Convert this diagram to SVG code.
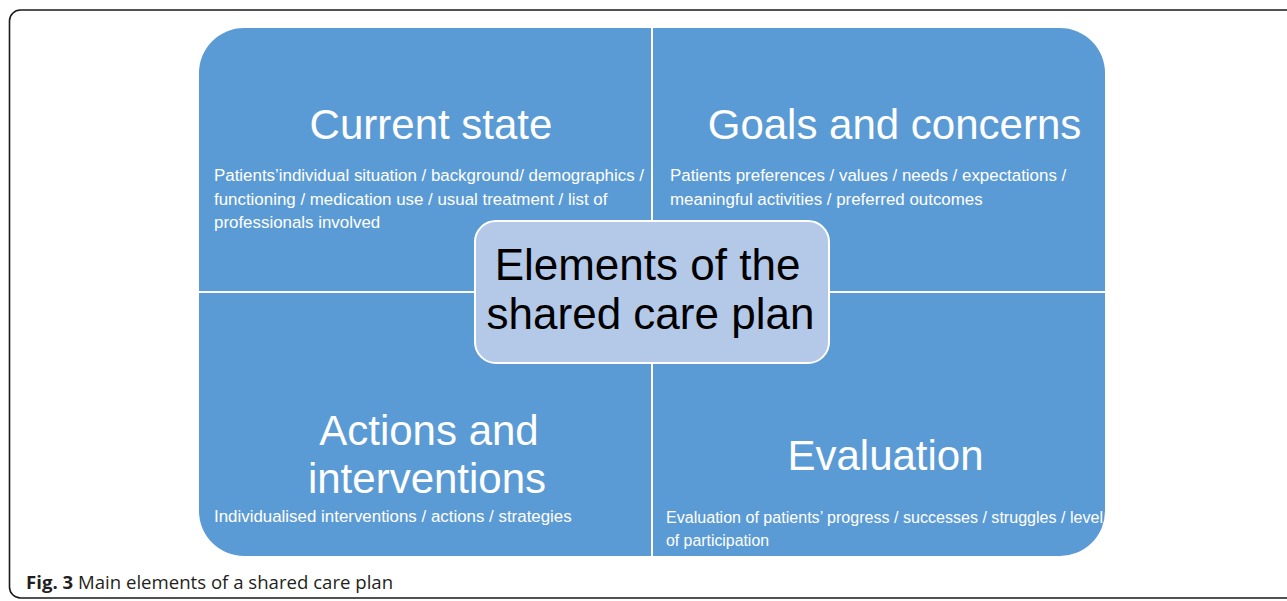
<svg xmlns="http://www.w3.org/2000/svg" width="1287" height="601" viewBox="0 0 1287 601">
<style>
.q{fill:#5b9bd5;}
.div{stroke:#ffffff;stroke-width:2;fill:none;}
.h{font-family:"Liberation Sans",Arial,sans-serif;font-size:42px;fill:#ffffff;text-anchor:middle;}
.s{font-family:"Liberation Sans",Arial,sans-serif;font-size:16.9px;fill:#ffffff;}
.c{font-family:"Liberation Sans",Arial,sans-serif;font-size:44px;fill:#000000;text-anchor:middle;}
.cap{font-family:"Open Sans","Noto Sans",sans-serif;font-size:18.6px;fill:#231f20;}
</style>
<rect x="0" y="0" width="1287" height="601" fill="#ffffff"/>
<rect x="9.5" y="10" width="1300" height="588" rx="11" fill="none" stroke="#1a1a1a" stroke-width="1.6"/>
<g id="current-state">
<path class="q" d="M199,291 L199,73 A45,45 0 0 1 244,28 L652,28 L652,291 Z"/>
<text class="h" x="431" y="139">Current state</text>
<text class="s" x="214" y="181">Patients’individual situation / background/ demographics /</text>
<text class="s" x="214" y="204.5">functioning / medication use / usual treatment / list of</text>
<text class="s" x="214" y="228">professionals involved</text>
</g>
<g id="goals-and-concerns">
<path class="q" d="M652,28 L1060,28 A45,45 0 0 1 1105,73 L1105,291 L652,291 Z"/>
<text class="h" x="894.5" y="139">Goals and concerns</text>
<text class="s" x="670" y="181">Patients preferences / values / needs / expectations /</text>
<text class="s" x="670" y="204.5">meaningful activities / preferred outcomes</text>
</g>
<g id="actions-and-interventions">
<path class="q" d="M199,292 L652,292 L652,556 L244,556 A45,45 0 0 1 199,511 Z"/>
<text class="h" x="429" y="445">Actions and</text>
<text class="h" x="427" y="492.5">interventions</text>
<text class="s" x="214" y="522">Individualised interventions / actions / strategies</text>
</g>
<g id="evaluation">
<path class="q" d="M652,292 L1105,292 L1105,511 A45,45 0 0 1 1060,556 L652,556 Z"/>
<text class="h" x="885.5" y="470">Evaluation</text>
<text class="s" x="666" y="522.5" textLength="437" lengthAdjust="spacingAndGlyphs">Evaluation of patients’ progress / successes / struggles / level</text>
<text class="s" x="666" y="546" textLength="103" lengthAdjust="spacingAndGlyphs">of participation</text>
</g>
<g id="connectors">
<line class="div" x1="652" y1="28" x2="652" y2="556"/>
<line class="div" x1="199" y1="292" x2="1105" y2="292"/>
</g>
<g id="center">
<rect x="475" y="221" width="354" height="142" rx="21" fill="#b4c8e7" stroke="#ffffff" stroke-width="2"/>
<text class="c" x="647.5" y="280">Elements of the</text>
<text class="c" x="650.5" y="328.5">shared care plan</text>
</g>
<g id="caption">
<text class="cap" x="26" y="589"><tspan font-weight="bold">Fig. 3</tspan> Main elements of a shared care plan</text>
</g>
</svg>
